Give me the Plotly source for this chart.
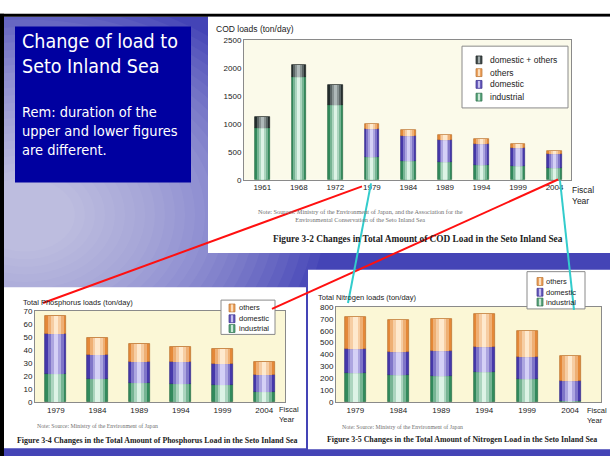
import plotly.graph_objects as go

W, H = 610, 461

# ---------------- data ----------------
cod_years = ['1961', '1968', '1972', '1979', '1984', '1989', '1994', '1999', '2004']
cod_industrial = [920, 1835, 1340, 405, 345, 320, 270, 240, 205]
cod_domestic = [0, 0, 0, 505, 440, 400, 370, 330, 260]
cod_others = [0, 0, 0, 95, 105, 90, 85, 75, 55]
cod_dom_others = [195, 225, 360, 0, 0, 0, 0, 0, 0]

p_years = ['1979', '1984', '1989', '1994', '1999', '2004']
p_industrial = [22, 17.5, 14.5, 14, 13.5, 8]
p_domestic = [30, 18.5, 16.5, 16.5, 15.5, 12.5]
p_others = [14, 13, 13.5, 12, 12, 10.5]

n_years = ['1979', '1984', '1989', '1994', '1999', '2004']
n_industrial = [248, 226, 223, 254, 193, 12]
n_domestic = [202, 196, 205, 213, 187, 162]
n_others = [262, 270, 273, 271, 220, 212]

cod_legend = ['domestic + others', 'others', 'domestic', 'industrial']
nut_legend = ['others', 'domestic', 'industrial']

# ---------------- helpers ----------------
def fx(x):
    return x / W


def fy(y):
    return 1 - y / H


def mix(c1, c2, t):
    return 'rgb(%d,%d,%d)' % tuple(round(a + (b - a) * t) for a, b in zip(c1, c2))


STYLE = {
    'industrial': ((50, 138, 92), (230, 249, 237), '#2a6e48'),
    'domestic': ((70, 56, 170), (220, 216, 250), '#33288a'),
    'others': ((228, 136, 56), (255, 238, 214), '#b8702c'),
    'domestic + others': ((36, 46, 46), (182, 192, 192), '#1a2020'),
}
LAYERS = [(1.0, 0.0), (0.74, 0.38), (0.48, 0.68), (0.22, 0.95)]

fig = go.Figure()


def add_stack(cats, series, xa, ya, width):
    base = [0] * len(cats)
    for key, vals in series:
        edge, center, outline = STYLE[key]
        yv = [v if v > 0 else None for v in vals]
        for k, (frac, t) in enumerate(LAYERS):
            fig.add_trace(go.Bar(
                x=cats, y=yv, base=list(base), width=width * frac,
                marker=dict(color=mix(edge, center, t),
                            line=dict(width=0.7 if k == 0 else 0, color=outline)),
                xaxis=xa, yaxis=ya, showlegend=False, hoverinfo='skip'))
        base = [b + v for b, v in zip(base, vals)]


add_stack(cod_years, [('industrial', cod_industrial), ('domestic', cod_domestic),
                      ('others', cod_others), ('domestic + others', cod_dom_others)],
          'x', 'y', 0.4)
add_stack(p_years, [('industrial', p_industrial), ('domestic', p_domestic),
                    ('others', p_others)], 'x2', 'y2', 0.5)
add_stack(n_years, [('industrial', n_industrial), ('domestic', n_domestic),
                    ('others', n_others)], 'x3', 'y3', 0.49)

tick_font = dict(family='Liberation Sans, Arial, sans-serif', size=8, color='#222222')


def xax(x0, x1, rng, anchor):
    return dict(domain=[fx(x0), fx(x1)], type='category', range=rng, anchor=anchor,
                showline=True, mirror=True, linecolor='#8a8a8a', linewidth=1,
                showgrid=False, zeroline=False, ticks='', tickfont=tick_font,
                fixedrange=True)


def yax(ytop, ybot, rng, dtick, anchor):
    return dict(domain=[fy(ybot), fy(ytop)], range=rng, dtick=dtick, anchor=anchor,
                showline=True, mirror=True, linecolor='#8a8a8a', linewidth=1,
                showgrid=False, zeroline=False, ticks='', tickfont=tick_font,
                fixedrange=True)


shapes = []
# blue slide
shapes.append(dict(type='rect', xref='paper', yref='paper', x0=0, x1=1, y0=fy(461), y1=fy(13),
                   fillcolor='rgb(68,68,182)', line_width=0, layer='below'))
# soft light glow on the left
n_glow = 26
for i in range(n_glow):
    s = 1 - i / n_glow
    rx, ry = 40 + 260 * s, 30 + 200 * s
    cx, cy = 25, 215
    shapes.append(dict(type='circle', xref='paper', yref='paper',
                       x0=fx(cx - rx), x1=fx(cx + rx), y0=fy(cy + ry), y1=fy(cy - ry),
                       fillcolor='white', opacity=0.042, line_width=0, layer='below'))
shapes.append(dict(type='rect', xref='paper', yref='paper', x0=0, x1=1, y0=fy(13), y1=fy(10),
                   fillcolor='black', line_width=0, layer='below'))
shapes.append(dict(type='rect', xref='paper', yref='paper', x0=0, x1=fx(4), y0=0, y1=fy(10),
                   fillcolor='black', line_width=0, layer='below'))
# title box
shapes.append(dict(type='rect', xref='paper', yref='paper', x0=fx(15), x1=fx(191),
                   y0=fy(182), y1=fy(23), fillcolor='rgb(0,0,160)', line_width=0, layer='below'))
# white panels
for x0, y0, x1, y1 in [(208, 13, 610, 254), (4, 289, 306, 453), (308, 271, 610, 454)]:
    shapes.append(dict(type='rect', xref='paper', yref='paper', x0=fx(x0), x1=fx(x1),
                       y0=fy(y1), y1=fy(y0), fillcolor='white', line_width=0, layer='below'))
# plot backgrounds
for xr, yr, col in [('x', 'y', '#fbfaea'), ('x2', 'y2', '#fbf7d6'), ('x3', 'y3', '#fbf7d6')]:
    shapes.append(dict(type='rect', xref=xr + ' domain', yref=yr + ' domain', x0=0, x1=1, y0=0, y1=1,
                       fillcolor=col, line_width=0, layer='below'))

annotations = []


def text(x, y, s, size, family='Liberation Sans, Arial, sans-serif', color='#222222',
         xanchor='left', yanchor='middle', align='left'):
    annotations.append(dict(x=fx(x), y=fy(y), xref='paper', yref='paper', text=s,
                            showarrow=False, xanchor=xanchor, yanchor=yanchor, align=align,
                            borderpad=0, font=dict(size=size, family=family, color=color)))


def legend(box, icon_x, text_x, ys, labels, size):
    x0, y0, x1, y1 = box
    shapes.append(dict(type='rect', xref='paper', yref='paper', x0=fx(x0), x1=fx(x1),
                       y0=fy(y1), y1=fy(y0), fillcolor='white',
                       line=dict(color='#8a8a8a', width=1), layer='above'))
    for yc, lab in zip(ys, labels):
        edge, center, outline = STYLE[lab]
        shapes.append(dict(type='rect', xref='paper', yref='paper', x0=fx(icon_x), x1=fx(icon_x + 6),
                           y0=fy(yc + 4), y1=fy(yc - 4), fillcolor=mix(edge, center, 0.25),
                           line=dict(color=outline, width=0.7), layer='above'))
        shapes.append(dict(type='rect', xref='paper', yref='paper', x0=fx(icon_x + 2), x1=fx(icon_x + 4),
                           y0=fy(yc + 3.5), y1=fy(yc - 3.5), fillcolor=mix(edge, center, 0.85),
                           line_width=0, layer='above'))
        text(text_x, yc, lab, size)


# ---- top (COD) ----
text(215, 25, 'COD loads (ton/day)', 8.5)
text(571, 195, 'Fiscal<br>Year', 8.5)
text(360, 216, 'Note: Sources: Ministry of the Environment of Japan, and the Association for the<br>'
     'Environmental Conservation of the Seto Inland Sea', 6.3,
     family='Liberation Serif, Times New Roman, serif', color='#707070', xanchor='center', align='center')
text(418, 240, '<b>Figure 3-2 Changes in Total Amount of COD Load in the Seto Inland Sea</b>', 9.3,
     family='Liberation Serif, Times New Roman, serif', color='#222', xanchor='center')
legend((462, 43, 568, 106), 476, 489, [57, 70, 82, 95], cod_legend, 8.5)

# ---- phosphorus ----
text(22, 304, 'Total Phosphorus loads (ton/day)', 7.5)
text(278, 419, 'Fiscal<br>Year', 7.5)
text(97, 430, 'Note: Source: Ministry of the Environment of Japan', 5.8,
     family='Liberation Serif, Times New Roman, serif', color='#707070', xanchor='center')
text(157, 445, '<b>Figure 3-4 Changes in the Total Amount of Phosphorus Load in the Seto Inland Sea</b>', 7.9,
     family='Liberation Serif, Times New Roman, serif', color='#222', xanchor='center')
legend((221, 302, 275, 337), 229, 238, [310, 321, 331], nut_legend, 7.5)

# ---- nitrogen ----
text(317, 299, 'Total Nitrogen loads (ton/day)', 7.5)
text(586, 420, 'Fiscal<br>Year', 7.5)
text(402, 431, 'Note: Source: Ministry of the Environment of Japan', 5.8,
     family='Liberation Serif, Times New Roman, serif', color='#707070', xanchor='center')
text(462, 444, '<b>Figure 3-5 Changes in the Total Amount of Nitrogen Load in the Seto Inland Sea</b>', 7.9,
     family='Liberation Serif, Times New Roman, serif', color='#222', xanchor='center')
legend((527, 273, 585, 311), 537, 545, [283, 294, 304], nut_legend, 7.5)

# ---- title box text ----
text(21, 26, 'Change of load to<br>Seto Inland Sea', 19.5,
     family='DejaVu Sans Condensed, Liberation Sans, sans-serif', color='white', yanchor='top')
text(21, 101, 'Rem: duration of the<br>upper and lower figures<br>are different.', 14.5,
     family='DejaVu Sans Condensed, Liberation Sans, sans-serif', color='white', yanchor='top')

# ---- connector lines ----
for (x0, y0, x1, y1), col in [((362, 186, 43, 305), '#ff1010'), ((558, 179, 272, 311), '#ff1010'),
                              ((371, 183, 348, 305), '#33cccc'), ((560, 180, 574, 312), '#33cccc')]:
    shapes.append(dict(type='line', xref='paper', yref='paper', x0=fx(x0), y0=fy(y0),
                       x1=fx(x1), y1=fy(y1), line=dict(color=col, width=2), layer='above'))

fig.update_layout(
    width=W, height=H, autosize=False,
    margin=dict(l=0, r=0, t=0, b=0),
    paper_bgcolor='white', plot_bgcolor='rgba(0,0,0,0)',
    barmode='overlay', bargap=0, showlegend=False, hovermode=False,
    xaxis=xax(244, 571, [-0.5, 8.45], 'y'),
    yaxis=yax(36.7, 179.3, [0, 2500], 500, 'x'),
    xaxis2=xax(35, 285, [-0.5, 5.5], 'y2'),
    yaxis2=yax(313, 406, [0, 70], 10, 'x2'),
    xaxis3=xax(336, 601, [-0.45, 5.72], 'y3'),
    yaxis3=yax(309, 406, [0, 800], 100, 'x3'),
    shapes=shapes, annotations=annotations,
)

fig.write_html('out.html', config={'displayModeBar': False},
               post_script="document.body.style.margin='0';document.body.style.overflow='hidden';")
